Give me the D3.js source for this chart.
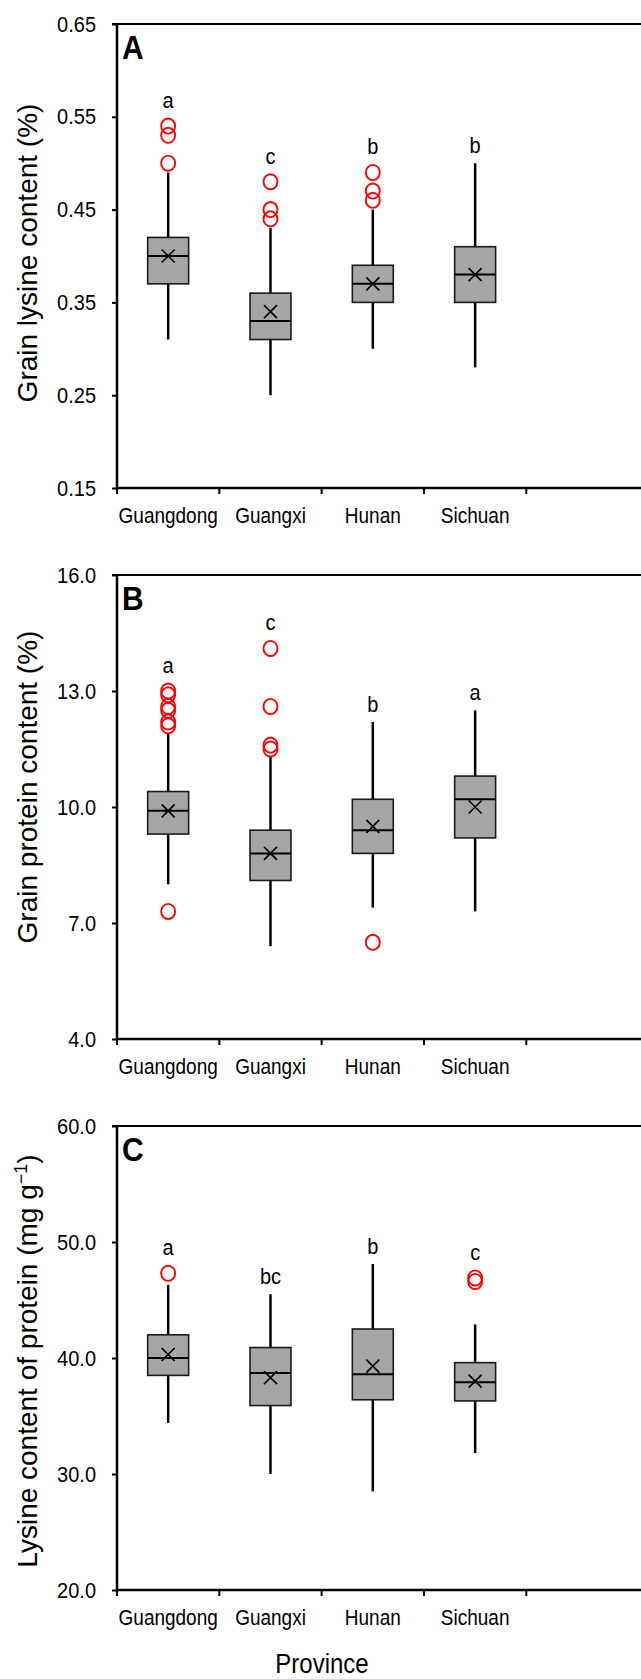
<!DOCTYPE html>
<html>
<head>
<meta charset="utf-8">
<script src="https://cdn.jsdelivr.net/npm/d3@7"></script>
<style>
  body { margin: 0; background: #fff; }
  svg text { font-family: "Liberation Sans", Arial, sans-serif; fill: #000; }
</style>
</head>
<body>
<div id="chart"></div>
<script>
// categories
var provinces = ["Guangdong", "Guangxi", "Hunan", "Sichuan"];

// A - grain lysine content (%)
var lysineTicks = [0.15, 0.25, 0.35, 0.45, 0.55, 0.65];
var lysineLow = [0.31, 0.25, 0.30, 0.28];
var lysineQ1 = [0.37, 0.31, 0.35, 0.35];
var lysineMedian = [0.40, 0.33, 0.37, 0.38];
var lysineQ3 = [0.42, 0.36, 0.39, 0.41];
var lysineHigh = [0.49, 0.43, 0.45, 0.50];
var lysineMean = [0.40, 0.34, 0.37, 0.38];
var lysineOutliers = [[0.54, 0.53, 0.50], [0.48, 0.45, 0.44], [0.49, 0.47, 0.46], []];
var lysineLetters = ["a", "c", "b", "b"];

// B - grain protein content (%)
var proteinTicks = [4, 7, 10, 13, 16];
var proteinLow = [8.0, 6.4, 7.4, 7.3];
var proteinQ1 = [9.3, 8.1, 8.8, 9.2];
var proteinMedian = [9.9, 8.8, 9.4, 10.2];
var proteinQ3 = [10.4, 9.4, 10.2, 10.8];
var proteinHigh = [11.9, 11.3, 12.2, 12.5];
var proteinMean = [9.9, 8.8, 9.5, 10.0];
var proteinOutliers = [[13.0, 12.9, 12.6, 12.5, 12.2, 12.1, 7.3], [14.1, 12.6, 11.6, 11.5], [6.5], []];
var proteinLetters = ["a", "c", "b", "a"];

// C - lysine content of protein (mg g-1)
var ratioTicks = [20, 30, 40, 50, 60];
var ratioLow = [34.4, 30.0, 28.5, 31.8];
var ratioQ1 = [38.5, 35.9, 36.4, 36.3];
var ratioMedian = [40.0, 38.7, 38.6, 37.9];
var ratioQ3 = [42.0, 40.9, 42.5, 39.6];
var ratioHigh = [46.3, 45.5, 48.1, 42.9];
var ratioMean = [40.3, 38.3, 39.3, 38.0];
var ratioOutliers = [[47.3], [], [], [46.9, 46.6]];
var ratioLetters = ["a", "bc", "b", "c"];

var W = 641, H = 1679;
var left = 117, plotRight = 526.3, lineRight = 641;
var panelH = 464, panelTops = [24, 575, 1126];
var titleShift = [-3, -20, 3];
var stretch = 1.12; // the source text is a little taller than wide

var panels = [
  {tag: "A", title: "Grain lysine content (%)", ticks: lysineTicks, fmt: d3.format(".2f"),
   low: lysineLow, q1: lysineQ1, med: lysineMedian, q3: lysineQ3, high: lysineHigh,
   mean: lysineMean, out: lysineOutliers, letters: lysineLetters},
  {tag: "B", title: "Grain protein content (%)", ticks: proteinTicks, fmt: d3.format(".1f"),
   low: proteinLow, q1: proteinQ1, med: proteinMedian, q3: proteinQ3, high: proteinHigh,
   mean: proteinMean, out: proteinOutliers, letters: proteinLetters},
  {tag: "C", title: null, ticks: ratioTicks, fmt: d3.format(".1f"),
   low: ratioLow, q1: ratioQ1, med: ratioMedian, q3: ratioQ3, high: ratioHigh,
   mean: ratioMean, out: ratioOutliers, letters: ratioLetters}
];

var svg = d3.select("#chart").append("svg")
  .attr("width", W)
  .attr("height", H);

var x = d3.scaleBand()
  .domain(provinces)
  .range([left, plotRight]);

var boxW = x.bandwidth() * 0.4;
var r = 7;

// place a text at (px,py) with a slight vertical stretch
function tallText(sel, px, py) {
  return sel.attr("transform", "translate(" + px + "," + py + ") scale(1," + stretch + ")");
}

panels.forEach(function(p, pi) {
  var top = panelTops[pi], bottom = top + panelH;
  var y = d3.scaleLinear()
    .domain([p.ticks[0], p.ticks[p.ticks.length - 1]])
    .range([bottom, top]);

  var g = svg.append("g");

  // y axis ticks + labels
  var yAxis = d3.axisLeft(y)
    .tickValues(p.ticks)
    .tickFormat(p.fmt)
    .tickSize(5)
    .tickSizeOuter(0)
    .tickPadding(16);
  var ya = g.append("g")
    .attr("transform", "translate(" + left + ",0)")
    .call(yAxis);
  ya.select(".domain").remove();
  ya.selectAll(".tick line").attr("stroke", "#000").attr("stroke-width", 2);
  ya.selectAll(".tick text")
    .attr("font-size", "20px")
    .attr("font-family", "Liberation Sans, Arial, sans-serif")
    .attr("transform", "scale(1," + stretch + ")");

  // x axis labels
  var xAxis = d3.axisBottom(x).tickSize(0).tickPadding(0);
  var xa = g.append("g")
    .attr("transform", "translate(0," + bottom + ")")
    .call(xAxis);
  xa.select(".domain").remove();
  xa.selectAll(".tick text")
    .attr("font-size", "19px")
    .attr("font-family", "Liberation Sans, Arial, sans-serif")
    .attr("dy", null)
    .attr("y", 0)
    .attr("transform", "translate(0,35) scale(1," + stretch + ")");

  // category boundary ticks
  g.selectAll(".ctick")
    .data(provinces.concat(["end"]))
    .enter()
    .append("line")
    .attr("x1", function(d) { return d === "end" ? plotRight : x(d); })
    .attr("x2", function(d) { return d === "end" ? plotRight : x(d); })
    .attr("y1", bottom)
    .attr("y2", bottom + 6)
    .attr("stroke", "#000")
    .attr("stroke-width", 2);

  // frame lines
  g.append("line")
    .attr("x1", left).attr("x2", left)
    .attr("y1", top - 1).attr("y2", bottom + 1)
    .attr("stroke", "#000").attr("stroke-width", 2.5);
  g.append("line")
    .attr("x1", left).attr("x2", lineRight)
    .attr("y1", bottom).attr("y2", bottom)
    .attr("stroke", "#000").attr("stroke-width", 2.5);
  g.append("line")
    .attr("x1", left - 5).attr("x2", lineRight)
    .attr("y1", top).attr("y2", top)
    .attr("stroke", "#000").attr("stroke-width", 2.2);

  // panel tag
  tallText(g.append("text"), left + 5, top + 35)
    .attr("font-size", "30px")
    .attr("font-weight", "bold")
    .text(p.tag);

  var cx = function(i) { return x(provinces[i]) + x.bandwidth() / 2; };
  var idx = d3.range(provinces.length);

  // whiskers
  g.selectAll(".wh-up").data(idx).enter().append("line")
    .attr("x1", cx).attr("x2", cx)
    .attr("y1", function(i) { return y(p.high[i]); })
    .attr("y2", function(i) { return y(p.q3[i]); })
    .attr("stroke", "#000").attr("stroke-width", 2.5);
  g.selectAll(".wh-dn").data(idx).enter().append("line")
    .attr("x1", cx).attr("x2", cx)
    .attr("y1", function(i) { return y(p.q1[i]); })
    .attr("y2", function(i) { return y(p.low[i]); })
    .attr("stroke", "#000").attr("stroke-width", 2.5);

  // boxes
  g.selectAll(".box").data(idx).enter().append("rect")
    .attr("x", function(i) { return cx(i) - boxW / 2; })
    .attr("y", function(i) { return y(p.q3[i]); })
    .attr("width", boxW)
    .attr("height", function(i) { return y(p.q1[i]) - y(p.q3[i]); })
    .attr("fill", "#a6a6a6")
    .attr("stroke", "#1a1a1a")
    .attr("stroke-width", 1.6);

  // medians
  g.selectAll(".med").data(idx).enter().append("line")
    .attr("x1", function(i) { return cx(i) - boxW / 2; })
    .attr("x2", function(i) { return cx(i) + boxW / 2; })
    .attr("y1", function(i) { return y(p.med[i]); })
    .attr("y2", function(i) { return y(p.med[i]); })
    .attr("stroke", "#000").attr("stroke-width", 2);

  // mean markers (x)
  var m = 6.5;
  idx.forEach(function(i) {
    var mx = cx(i), my = y(p.mean[i]);
    g.append("path")
      .attr("d", "M" + (mx - m) + "," + (my - m) + "L" + (mx + m) + "," + (my + m) +
                 "M" + (mx - m) + "," + (my + m) + "L" + (mx + m) + "," + (my - m))
      .attr("stroke", "#000")
      .attr("stroke-width", 1.7)
      .attr("fill", "none");
  });

  // outliers
  idx.forEach(function(i) {
    g.selectAll(".out" + i).data(p.out[i]).enter().append("ellipse")
      .attr("cx", cx(i))
      .attr("cy", function(d) { return y(d); })
      .attr("rx", r)
      .attr("ry", r * 1.08)
      .attr("fill", "none")
      .attr("stroke", "#ff0000")
      .attr("stroke-width", 1.9);
  });

  // significance letters
  idx.forEach(function(i) {
    var topOut = d3.max(p.out[i].concat([p.high[i]]));
    var ly = topOut > p.high[i] ? y(topOut) - r - 11 : y(p.high[i]) - 10;
    tallText(g.append("text"), cx(i), ly)
      .attr("text-anchor", "middle")
      .attr("font-size", "20px")
      .text(p.letters[i]);
  });

  // y title
  var yt = g.append("text")
    .attr("transform", "translate(37," + (top + panelH / 2 + titleShift[pi]) + ") rotate(-90)")
    .attr("text-anchor", "middle")
    .attr("font-size", "28px");
  if (p.title) {
    yt.text(p.title);
  } else {
    yt.append("tspan").text("Lysine content of protein (mg g");
    yt.append("tspan").attr("baseline-shift", "super").attr("font-size", "18px").text("\u22121");
    yt.append("tspan").text(")");
  }
});

// x title
tallText(svg.append("text"), 322, 1673)
  .attr("text-anchor", "middle")
  .attr("font-size", "24px")
  .text("Province");
</script>
</body>
</html>
